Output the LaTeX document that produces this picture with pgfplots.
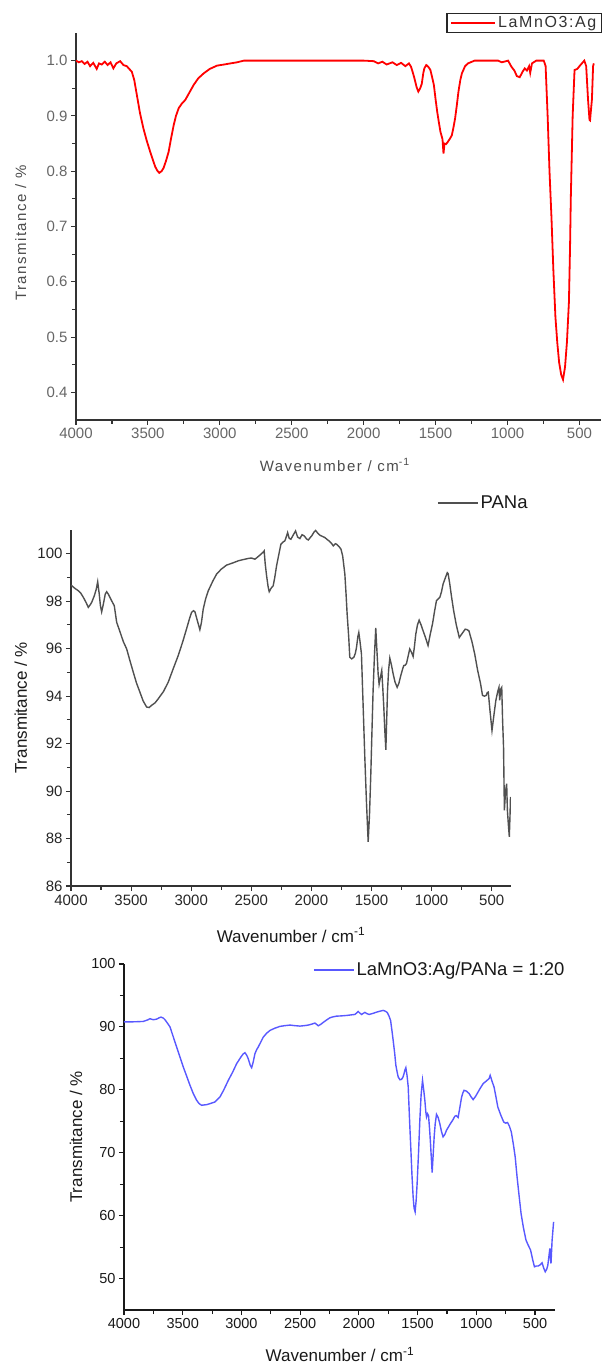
\documentclass[border=0pt]{standalone}
\usepackage{fontspec}
\setmainfont{Liberation Sans}
\newfontfamily\spaced[LetterSpace=10]{Liberation Sans}
\usepackage{pgfplots}
\pgfplotsset{compat=1.18}
\definecolor{specred}{HTML}{FF0000}
\definecolor{specgrey}{HTML}{505050}
\definecolor{specblue}{HTML}{5858FF}
\newcommand\fs[1]{\fontsize{#1}{#1}\selectfont}

\pgfplotsset{
  ftir/.style={
    scale only axis, anchor=south west,
    x dir=reverse, xmax=4000,
    xtick={500,1000,...,4000},
    minor x tick num=1, minor y tick num=1,
    axis x line=bottom, axis y line=left,
    axis line style={-, line width=1.2pt},
    tick align=outside, major tick length=5pt, minor tick length=4pt,
    every tick/.style={line width=1.1pt},
    enlargelimits=false,
    /pgf/number format/assume math mode=true,
    /pgf/number format/1000 sep={},
    legend cell align=left,
  }
}

\begin{document}
\begin{tikzpicture}
\useasboundingbox (0,0) rectangle (606pt,1365pt);

% LaMnO3:Ag
\begin{axis}[ftir,
  at={(76pt,945pt)}, width=525pt, height=387pt,
  xmin=350, ymin=0.35, ymax=1.05,
  ytick={0.4,0.5,...,1.0},
  yticklabel style={/pgf/number format/.cd, fixed, fixed zerofill, precision=1},
  axis line style={black!80},
  every tick/.append style={black!80},
  tick label style={font=\fs{15}, text=black!60},
  label style={font=\spaced\fs{15}, text=black!70},
  xlabel={Wavenumber / cm\textsuperscript{-1}},
  ylabel={Transmitance / \%},
  xlabel style={at={(axis description cs:0.493,-0.116)}, anchor=center},
  ylabel style={at={(axis description cs:-0.105,0.483)}, anchor=center},
  legend style={at={(axis description cs:1.002,1.052)}, anchor=north east,
    draw=black!85, line width=1.4pt, inner xsep=3pt, inner ysep=1pt,
    font=\spaced\fs{16}, text=black!80},
  legend image code/.code={\draw[#1, line width=2pt] (0pt,0pt) -- (44pt,0pt);},
]
\addplot[specred, line width=1.8pt] coordinates {
(4000,1.0)(3980,0.997)(3960,0.999)(3940,0.994)(3920,0.998)(3902,0.990)(3880,0.996)
(3856,0.985)(3840,0.995)(3821,0.993)(3800,0.998)(3780,0.992)(3760,0.997)(3740,0.986)
(3720,0.995)(3693,0.999)(3670,0.992)(3647,0.990)(3630,0.985)(3612,0.980)(3595,0.965)
(3577,0.938)(3555,0.905)(3531,0.877)(3508,0.855)(3484,0.835)(3465,0.820)(3449,0.808)
(3435,0.801)(3421,0.797)(3405,0.800)(3391,0.806)(3375,0.818)(3356,0.835)(3340,0.858)
(3321,0.883)(3305,0.900)(3286,0.914)(3265,0.922)(3240,0.929)(3210,0.943)(3182,0.956)
(3150,0.968)(3112,0.977)(3070,0.985)(3019,0.991)(2970,0.993)(2926,0.995)(2880,0.997)
(2833,1.0)(2000,1.0)(1929,0.999)(1900,0.995)(1870,0.998)(1840,0.993)(1800,0.997)
(1770,0.992)(1740,0.996)(1710,0.990)(1685,0.995)(1671,0.989)(1660,0.980)(1647,0.968)
(1632,0.952)(1620,0.944)(1607,0.950)(1596,0.958)(1585,0.978)(1578,0.986)(1565,0.992)
(1559,0.991)(1548,0.988)(1536,0.983)(1524,0.970)(1512,0.956)(1500,0.930)(1489,0.908)
(1477,0.888)(1466,0.871)(1452,0.858)(1445,0.832)(1438,0.850)(1427,0.849)(1415,0.853)
(1400,0.859)(1387,0.865)(1375,0.880)(1364,0.896)(1352,0.920)(1341,0.944)(1328,0.965)
(1317,0.977)(1295,0.990)(1275,0.995)(1229,1.0)(1066,1.0)(1040,0.997)(1010,0.999)
(996,1.0)(973,0.989)(952,0.982)(935,0.972)(915,0.970)(895,0.980)(880,0.986)(865,0.982)
(850,0.990)(842,0.978)(830,0.995)(800,1.0)(748,1.0)(735,0.99)(721,0.90)(708,0.80)
(694,0.714)(681,0.62)(667,0.537)(654,0.49)(641,0.454)(627,0.432)(614,0.423)(600,0.446)
(587,0.49)(573,0.563)(565,0.665)(560,0.75)(547,0.90)(534,0.983)(515,0.985)(493,0.992)
(466,1.0)(453,0.99)(440,0.929)(430,0.893)(426,0.892)(420,0.91)(413,0.93)(405,0.99)
(400,0.995)
};
\addlegendentry{LaMnO3:Ag}
\end{axis}

% PANa
\begin{axis}[ftir,
  at={(71pt,479pt)}, width=440pt, height=356pt,
  xmin=340, ymin=86, ymax=101,
  ytick={86,88,...,100},
  axis line style={black!80},
  every tick/.append style={black!80},
  tick label style={font=\fs{15}, text=black!85},
  label style={font=\fs{17}, text=black!90},
  xlabel={Wavenumber / cm\textsuperscript{-1}},
  ylabel={Transmitance / \%},
  xlabel style={at={(axis description cs:0.5,-0.138)}, anchor=center},
  ylabel style={at={(axis description cs:-0.114,0.5)}, anchor=center},
  legend style={at={(axis description cs:0.832,1.076)}, anchor=west,
    draw=none, fill=none, inner sep=0pt, font=\fs{18.5}, text=black!90},
  legend image code/.code={\draw[#1] (0pt,0pt) -- (40pt,0pt);},
]
\addplot[specgrey, line width=1.4pt] coordinates {
(4000,98.68)(3970,98.55)(3939,98.44)(3920,98.35)(3897,98.16)(3875,97.95)(3856,97.74)
(3840,97.85)(3828,97.95)(3806,98.23)(3790,98.5)(3778,98.82)(3765,98.3)(3755,97.8)
(3745,97.55)(3730,97.9)(3715,98.3)(3703,98.4)(3690,98.3)(3676,98.16)(3660,98.0)
(3640,97.81)(3620,97.11)(3593,96.72)(3565,96.3)(3537,95.99)(3510,95.5)(3482,95.01)
(3455,94.55)(3427,94.17)(3400,93.8)(3371,93.54)(3350,93.52)(3330,93.61)(3300,93.72)
(3274,93.89)(3230,94.2)(3191,94.59)(3150,95.15)(3108,95.71)(3070,96.3)(3039,96.83)
(3015,97.25)(2997,97.53)(2980,97.6)(2969,97.55)(2950,97.2)(2928,96.80)(2915,97.1)
(2900,97.67)(2880,98.1)(2858,98.44)(2820,98.85)(2789,99.14)(2750,99.35)(2706,99.52)
(2650,99.62)(2609,99.70)(2570,99.75)(2526,99.80)(2500,99.82)(2470,99.77)(2450,99.85)
(2429,99.94)(2405,100.05)(2393,100.12)(2385,99.6)(2373,99.07)(2360,98.6)(2351,98.4)
(2335,98.55)(2318,98.65)(2305,99.0)(2290,99.49)(2270,100.0)(2254,100.4)(2235,100.5)
(2221,100.54)(2210,100.7)(2198,100.89)(2185,100.65)(2171,100.61)(2150,100.8)
(2132,100.96)(2115,100.7)(2096,100.64)(2078,100.8)(2060,100.75)(2040,100.62)
(2026,100.58)(2010,100.68)(1998,100.75)(1980,100.9)(1965,100.98)(1945,100.85)
(1929,100.78)(1905,100.72)(1887,100.68)(1870,100.6)(1854,100.54)(1835,100.45)
(1818,100.33)(1800,100.42)(1790,100.4)(1770,100.3)(1754,100.19)(1740,99.9)(1722,99.14)
(1712,98.3)(1703,97.46)(1690,96.5)(1681,95.64)(1665,95.57)(1647,95.64)(1635,95.8)
(1625,96.05)(1614,96.5)(1606,96.68)(1596,96.3)(1584,95.78)(1570,93.6)(1556,91.43)
(1542,89.5)(1528,87.86)(1517,89.0)(1506,90.73)(1495,92.8)(1487,94.24)(1476,95.7)
(1465,96.87)(1455,95.9)(1445,94.93)(1437,94.5)(1426,94.8)(1415,95.08)(1406,94.3)
(1398,93.53)(1390,92.6)(1381,91.74)(1374,93.0)(1367,94.24)(1358,95.1)(1348,95.6)
(1334,95.3)(1320,94.93)(1305,94.6)(1287,94.37)(1272,94.55)(1257,94.86)(1244,95.1)
(1232,95.29)(1220,95.3)(1209,95.38)(1195,95.7)(1182,95.99)(1168,95.85)(1154,95.67)
(1143,96.1)(1132,96.61)(1118,97.0)(1104,97.2)(1088,97.0)(1071,96.75)(1050,96.45)
(1030,96.13)(1012,96.6)(993,97.04)(975,97.6)(960,98.02)(945,98.1)(932,98.16)(918,98.4)
(905,98.72)(885,99.0)(870,99.2)(863,99.16)(849,98.72)(835,98.2)(817,97.6)(795,97.0)
(770,96.47)(745,96.65)(721,96.82)(705,96.8)(690,96.75)(665,96.3)(642,95.78)(618,95.1)
(593,94.52)(577,94.03)(560,94.0)(546,94.03)(537,94.15)(529,94.17)(515,93.4)(498,92.55)
(482,93.2)(466,93.82)(450,94.2)(440,94.37)(434,93.82)(425,94.3)(417,94.37)(410,93.0)
(402,91.85)(395,89.19)(385,90.0)(376,90.31)(370,89.19)(362,88.6)(354,88.07)(348,89.0)
(344,89.75)
};
\addlegendentry{PANa}
\end{axis}

% LaMnO3:Ag/PANa = 1:20
\begin{axis}[ftir,
  at={(124pt,55pt)}, width=431pt, height=346pt,
  xmin=330, ymin=45, ymax=100,
  ytick={50,60,...,100},
  axis line style={black!90},
  every tick/.append style={black!90},
  tick label style={font=\fs{14.5}, text=black!90},
  label style={font=\fs{17}, text=black!90},
  xlabel={Wavenumber / cm\textsuperscript{-1}},
  ylabel={Transmitance / \%},
  xlabel style={at={(axis description cs:0.501,-0.128)}, anchor=center},
  ylabel style={at={(axis description cs:-0.111,0.5)}, anchor=center},
  legend style={at={(axis description cs:0.4385,0.983)}, anchor=west,
    draw=none, fill=none, inner sep=0pt, font=\fs{18.5}, text=black!90},
  legend image code/.code={\draw[#1] (0pt,0pt) -- (40pt,0pt);},
]
\addplot[specblue, line width=1.4pt] coordinates {
(4000,90.8)(3950,90.8)(3900,90.82)(3836,90.87)(3800,91.1)(3779,91.3)(3750,91.14)
(3722,91.24)(3700,91.45)(3685,91.56)(3665,91.4)(3651,91.14)(3630,90.6)(3608,89.98)
(3580,88.4)(3552,86.8)(3523,85.2)(3495,83.62)(3465,82.1)(3438,80.71)(3410,79.4)
(3381,78.33)(3360,77.8)(3339,77.54)(3318,77.6)(3296,77.64)(3260,77.85)(3225,78.07)
(3183,78.86)(3150,80.0)(3112,81.5)(3075,82.8)(3041,84.15)(3005,85.2)(2985,85.7)
(2970,85.9)(2955,85.5)(2942,84.94)(2925,83.9)(2913,83.52)(2900,84.4)(2885,85.74)
(2870,86.4)(2857,86.8)(2835,87.6)(2814,88.38)(2785,89.0)(2757,89.44)(2715,89.8)
(2672,90.08)(2630,90.2)(2587,90.29)(2545,90.2)(2502,90.13)(2465,90.2)(2431,90.29)
(2400,90.45)(2374,90.61)(2360,90.4)(2346,90.18)(2325,90.4)(2304,90.71)(2275,91.1)
(2247,91.45)(2220,91.6)(2190,91.71)(2150,91.75)(2105,91.82)(2070,91.9)(2034,91.98)
(2020,92.2)(2006,92.46)(1992,92.2)(1977,91.98)(1963,92.15)(1949,92.3)(1930,92.1)
(1912,91.98)(1880,92.15)(1849,92.35)(1820,92.5)(1793,92.62)(1775,92.5)(1759,92.3)
(1745,91.8)(1730,91.03)(1719,89.5)(1708,87.86)(1695,85.8)(1685,83.89)(1675,82.9)
(1665,82.03)(1650,81.6)(1637,81.66)(1625,82.0)(1617,82.46)(1607,83.2)(1600,83.52)
(1590,82.3)(1580,80.5)(1568,75.0)(1557,70.4)(1548,66.5)(1538,62.98)(1530,61.2)
(1521,60.6)(1512,62.5)(1504,65.1)(1492,70.0)(1481,75.16)(1470,79.2)(1458,81.5)
(1448,80.0)(1438,78.3)(1430,76.5)(1424,75.7)(1416,76.2)(1407,75.9)(1398,73.8)
(1390,71.46)(1382,68.8)(1376,66.85)(1368,69.5)(1359,72.52)(1350,74.6)(1339,76.1)
(1325,75.6)(1311,74.64)(1297,73.4)(1283,72.52)(1268,72.9)(1254,73.57)(1237,74.1)
(1220,74.64)(1200,75.2)(1183,75.8)(1170,75.9)(1155,75.6)(1140,77.2)(1126,78.76)
(1115,79.5)(1104,79.92)(1085,79.8)(1061,79.4)(1045,78.9)(1027,78.44)(1005,79.0)
(985,79.66)(965,80.3)(942,80.98)(915,81.4)(891,81.78)(882,82.3)(865,81.3)(849,80.45)
(833,78.9)(817,77.27)(792,76.0)(767,74.89)(750,74.7)(734,74.8)(718,74.2)(702,73.3)
(685,71.4)(669,69.33)(653,66.16)(636,63.2)(619,60.35)(598,58.0)(577,56.11)(558,55.3)
(538,54.52)(520,53.0)(505,51.87)(488,52.0)(472,52.0)(455,52.2)(440,52.5)(425,51.6)
(413,51.08)(400,51.5)(391,52.14)(380,53.8)(374,54.8)(368,53.0)(364,52.4)(355,56.0)
(342,59.0)
};
\addlegendentry{LaMnO3:Ag/PANa = 1:20}
\end{axis}
\end{tikzpicture}
\end{document}
